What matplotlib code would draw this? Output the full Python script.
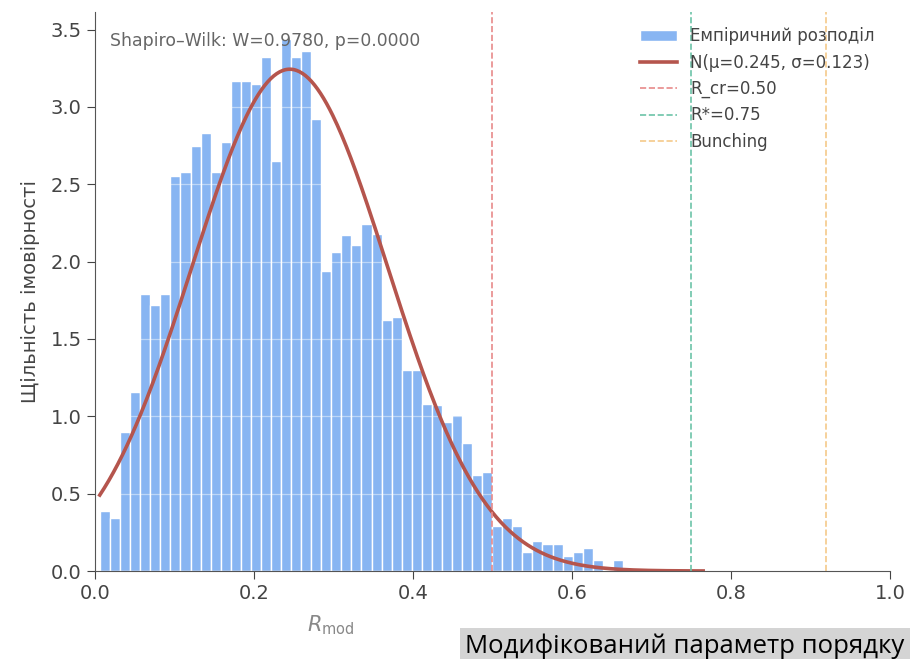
import numpy as np
import matplotlib
matplotlib.use("Agg")
import matplotlib.pyplot as plt

# histogram of R_mod (density), 52 equal bins
bin_start = 0.0063
bin_width = 0.01265
density = [0.39, 0.345, 0.90, 1.155, 1.79, 1.72, 1.79, 2.555, 2.58, 2.75,
           2.83, 2.58, 2.77, 3.17, 3.17, 3.15, 3.32, 2.65, 3.44, 3.32,
           3.36, 2.92, 1.94, 2.065, 2.17, 2.11, 2.24, 2.18, 1.62, 1.64,
           1.30, 1.30, 1.08, 1.07, 0.96, 1.01, 0.83, 0.62, 0.64, 0.29,
           0.345, 0.29, 0.125, 0.196, 0.173, 0.173, 0.097, 0.125, 0.147, 0.071,
           0.0, 0.071]

mu = 0.245
sigma = 0.123
curve_from, curve_to = 0.006, 0.765

r_cr = 0.50
r_star = 0.75
r_bunch = 0.92

W_stat = 0.9780
p_value = 0.0000

plt.rcParams['font.family'] = ['DejaVu Sans']

fig = plt.figure(figsize=(9.1, 6.59), dpi=100)
ax = fig.add_axes([0.1044, 0.1335, 0.8736, 0.848])

edges = bin_start + bin_width * np.arange(len(density) + 1)
bars = ax.bar(edges[:-1], density, width=bin_width, align='edge', color='#88b5f2',
              edgecolor='white', linewidth=1.0, label='Емпіричний розподіл')

xs = np.linspace(curve_from, curve_to, 400)
pdf = np.exp(-(xs - mu) ** 2 / (2 * sigma ** 2)) / (sigma * np.sqrt(2 * np.pi))
fit, = ax.plot(xs, pdf, color='#b5554d', lw=2.6, label=f'N(μ={mu:.3f}, σ={sigma:.3f})')

l1 = ax.axvline(r_cr, color='#e88a8a', ls='--', lw=1.2, label=f'R_cr={r_cr:.2f}')
l2 = ax.axvline(r_star, color='#6cc3a8', ls='--', lw=1.2, label=f'R*={r_star:.2f}')
l3 = ax.axvline(r_bunch, color='#f5c98a', ls='--', lw=1.2, label='Bunching')

ax.set_xlim(0, 1.0)
ax.grid(True, axis='y', color='white', alpha=0.45, lw=0.9)

for side in ['top', 'right']:
    ax.spines[side].set_visible(False)
for side in ['left', 'bottom']:
    ax.spines[side].set_color('#555555')
ax.tick_params(labelsize=14, colors='#444444', length=6)

ax.text(0.019, 0.965, f'Shapiro–Wilk: W={W_stat:.4f}, p={p_value:.4f}',
        transform=ax.transAxes, fontsize=12.4, color='#666666', va='top')

ax.set_xlabel(r'$R_{\mathrm{mod}}$', fontsize=15, color='#888888')
ax.xaxis.set_label_coords(0.296, -0.075)
ax.set_ylabel('Щільність імовірності', fontsize=14, color='#444444', labelpad=8)

leg = ax.legend(handles=[bars, fit, l1, l2, l3], loc='upper right', frameon=False,
                fontsize=12, handlelength=2.2)
for t in leg.get_texts():
    t.set_color('#444444')

fig.text(0.994, 0.0, 'Модифікований параметр порядку', ha='right', va='bottom',
         fontsize=18.5, family='Open Sans', color='black',
         bbox=dict(facecolor='#d4d4d4', edgecolor='none', pad=4))

fig.savefig('out.png', dpi=100)
